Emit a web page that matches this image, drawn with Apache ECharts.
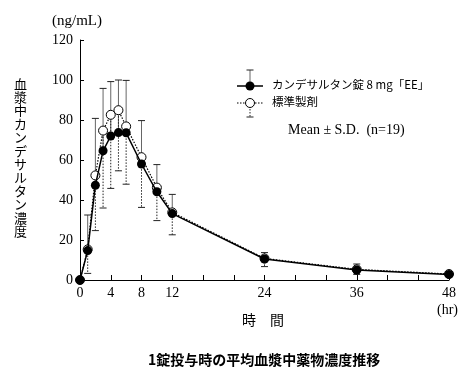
<!DOCTYPE html>
<html><head><meta charset="utf-8">
<script src="https://cdn.jsdelivr.net/npm/echarts@6/dist/echarts.min.js"></script>
<style>html,body{margin:0;padding:0;background:#fff}#c{width:475px;height:380px}</style>
</head><body><div id="c"></div>
<script>
// ---- data ----
var times = [0, 1, 2, 3, 4, 5, 6, 8, 10, 12, 24, 36, 48];
var testMean = [0, 14.7, 47.4, 64.6, 72.0, 73.7, 73.6, 58.0, 44.1, 33.2, 10.5, 5.0, 2.8];
var testSD   = [0, 17.8, 33.4, 31.2, 27.2, 26.3, 26.2, 21.7, 13.6, 9.6, 3.2, 3.0, 1.4];
var refMean  = [0, 15.3, 52.3, 74.7, 82.6, 84.9, 76.8, 61.4, 46.2, 33.8, 10.8, 5.3, 3.0];
var refSD    = [0, 12.0, 27.6, 38.7, 36.8, 30.3, 28.9, 25.1, 16.5, 11.2, 4.1, 2.5, 1.5];
var xTickLabels = [0, 4, 8, 12, 24, 36, 48];
var yTicks = [0, 20, 40, 60, 80, 100, 120];
var testName = 'カンデサルタン錠 8 mg「EE」';
var refName = '標準製剤';
var yTitle = '血漿中カンデサルタン濃度';
var xTitle = '時　間';
var unitY = '(ng/mL)';
var unitX = '(hr)';
var statText = 'Mean ± S.D.  (n=19)';
var chartTitle = '1錠投与時の平均血漿中薬物濃度推移';

var serif = '"Liberation Serif","DejaVu Serif",serif';
var jp = '"Noto Sans CJK JP","Noto Sans",sans-serif';
var mixed = '"Liberation Serif","Noto Sans CJK JP",serif';

var testLine = times.map(function (t, i) { return [t, testMean[i]]; });
var refLine = times.map(function (t, i) { return [t, refMean[i]]; });
var testBars = times.map(function (t, i) { return [t, testMean[i], testMean[i] + testSD[i]]; }).filter(function (d) { return d[2] > d[1]; });
var refBars = times.map(function (t, i) { return [t, refMean[i], refMean[i] - refSD[i]]; }).filter(function (d) { return d[2] < d[1]; });

function barRenderer(color, dashed) {
  return function (params, api) {
    var p0 = api.coord([api.value(0), api.value(1)]);
    var p1 = api.coord([api.value(0), api.value(2)]);
    var style = { stroke: color, lineWidth: 1, lineDash: dashed ? [1.5, 1.5] : null };
    return {
      type: 'group',
      children: [
        { type: 'line', shape: { x1: p0[0], y1: p0[1], x2: p1[0], y2: p1[1] }, style: style },
        { type: 'line', shape: { x1: p1[0] - 3.5, y1: p1[1], x2: p1[0] + 3.5, y2: p1[1] }, style: { stroke: '#222', lineWidth: 1 } }
      ]
    };
  };
}

var chart = echarts.init(document.getElementById('c'), null, { renderer: 'canvas' });
chart.setOption({
  animation: false,
  backgroundColor: '#fff',
  grid: { left: 80, right: 26, top: 40, bottom: 100, containLabel: false },
  xAxis: {
    type: 'value', min: 0, max: 48, interval: 4,
    axisLine: { lineStyle: { color: '#000', width: 1 } },
    axisTick: { inside: true, length: 5, lineStyle: { color: '#000' } },
    axisLabel: {
      color: '#000', fontFamily: serif, fontSize: 14, margin: 6,
      formatter: function (v) { return xTickLabels.indexOf(v) >= 0 ? String(v) : ''; }
    },
    splitLine: { show: false }
  },
  yAxis: {
    type: 'value', min: 0, max: 120, interval: 20,
    axisLine: { show: true, lineStyle: { color: '#000', width: 1 } },
    axisTick: { show: true, inside: true, length: 4, lineStyle: { color: '#000' } },
    axisLabel: {
      color: '#000', fontFamily: serif, fontSize: 14, margin: 7,
      formatter: function (v) { return yTicks.indexOf(v) >= 0 ? String(v) : ''; }
    },
    splitLine: { show: false }
  },
  series: [
    { type: 'custom', name: 'testSD', data: testBars, renderItem: barRenderer('#666', false), z: 1, silent: true },
    { type: 'custom', name: 'refSD', data: refBars, renderItem: barRenderer('#222', true), z: 1, silent: true },
    {
      type: 'line', name: refName, data: refLine, z: 3,
      symbol: 'circle', symbolSize: 9, showAllSymbol: true,
      lineStyle: { color: '#000', width: 1.2, type: [1.5, 1.5] },
      itemStyle: { color: '#fff', borderColor: '#000', borderWidth: 1 }
    },
    {
      type: 'line', name: testName, data: testLine, z: 4,
      symbol: 'circle', symbolSize: 9, showAllSymbol: true,
      lineStyle: { color: '#000', width: 1.5 },
      itemStyle: { color: '#000', borderColor: '#000', borderWidth: 0 }
    }
  ],
  graphic: [
    { type: 'text', left: 52, top: 14, style: { text: unitY, font: '15px ' + serif, fill: '#000' } },
    { type: 'text', left: 14, top: 77, style: { text: yTitle.split('').join('\n'), font: '13px ' + jp, lineHeight: 13.4, fill: '#000' } },
    { type: 'text', left: 437, top: 303, style: { text: unitX, font: '14px ' + serif, fill: '#000' } },
    { type: 'text', left: 242, top: 313, style: { text: xTitle, font: '14px ' + jp, fill: '#000' } },
    { type: 'text', left: 148, top: 353, style: { text: chartTitle, font: 'bold 14px ' + jp, fill: '#000' } },
    // legend: test
    { type: 'line', shape: { x1: 237, y1: 86, x2: 263, y2: 86 }, style: { stroke: '#000', lineWidth: 1.5 } },
    { type: 'line', shape: { x1: 250, y1: 86, x2: 250, y2: 70 }, style: { stroke: '#666', lineWidth: 1 } },
    { type: 'line', shape: { x1: 246.5, y1: 70, x2: 253.5, y2: 70 }, style: { stroke: '#222', lineWidth: 1 } },
    { type: 'circle', shape: { cx: 250, cy: 86, r: 4.5 }, style: { fill: '#000' } },
    { type: 'text', left: 272, top: 79, style: { text: testName, font: '11.5px ' + jp, fill: '#000' } },
    // legend: reference
    { type: 'line', shape: { x1: 237, y1: 103, x2: 263, y2: 103 }, style: { stroke: '#000', lineWidth: 1.2, lineDash: [1.5, 1.5] } },
    { type: 'line', shape: { x1: 250, y1: 103, x2: 250, y2: 117 }, style: { stroke: '#222', lineWidth: 1, lineDash: [1.5, 1.5] } },
    { type: 'line', shape: { x1: 246.5, y1: 117, x2: 253.5, y2: 117 }, style: { stroke: '#222', lineWidth: 1 } },
    { type: 'circle', shape: { cx: 250, cy: 103, r: 4.5 }, style: { fill: '#fff', stroke: '#000', lineWidth: 1 } },
    { type: 'text', left: 272, top: 96, style: { text: refName, font: '11.5px ' + jp, fill: '#000' } },
    { type: 'text', left: 288, top: 123, style: { text: statText, font: '14px ' + mixed, fill: '#000' } }
  ]
});
</script>
</body></html>
